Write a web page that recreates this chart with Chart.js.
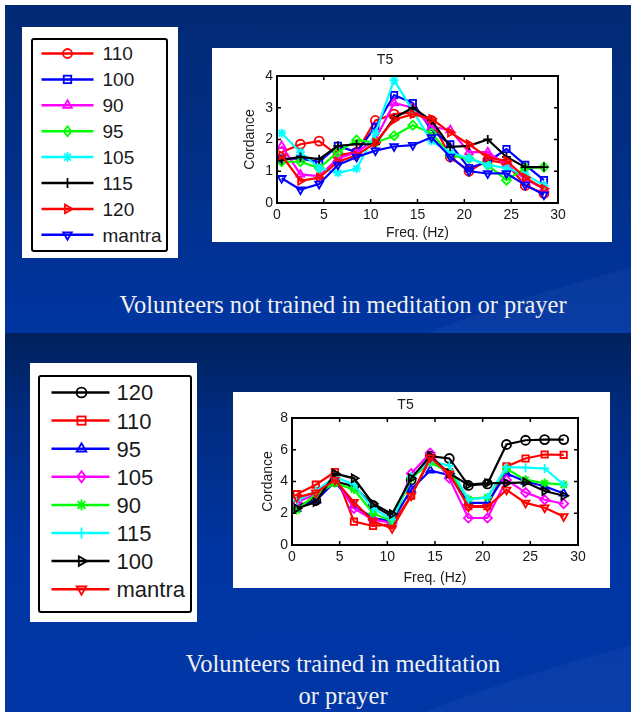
<!DOCTYPE html>
<html>
<head>
<meta charset="utf-8">
<script src="https://cdn.jsdelivr.net/npm/chart.js@4.4.1/dist/chart.umd.min.js"></script>
<style>
html, body { margin: 0; padding: 0; background: #fff; }
body { width: 631px; height: 712px; position: relative; overflow: hidden; font-family: Arial, "Liberation Sans", sans-serif; }
.panel { position: absolute; left: 5px; right: 0; overflow: hidden; }
#p1 { top: 5px; height: 328px; background: linear-gradient(180deg, #022a74 0%, #012f8a 55%, #0035a2 100%); }
#p2 { top: 333px; height: 379px; background: linear-gradient(180deg, #00215c 0%, #002b80 22%, #0035a4 60%, #0036a6 100%); }
.swoosh { position: absolute; width: 700px; height: 90px; border-radius: 50%; background: rgba(255,255,255,0.035); transform: rotate(-14deg); }
.wbox { position: absolute; background: #fff; }
.lgd { position: absolute; border: 2.5px solid #000; border-radius: 3px; box-sizing: border-box; }
.lgd svg { position: absolute; left: 0; top: 0; }
.cap { position: absolute; left: 55px; right: 0; text-align: center; color: #f0f0f0; font-family: "Liberation Serif", "DejaVu Serif", serif; font-size: 24.5px; line-height: 32px; }
canvas { position: absolute; }
</style>
</head>
<body>
<div class="panel" id="p1"><div class="swoosh" style="left:330px;top:250px"></div></div>
<div class="panel" id="p2"><div class="swoosh" style="left:330px;top:300px"></div></div>

<div class="wbox" style="left:22px;top:27px;width:156px;height:231px"></div>
<div class="lgd" id="lgd1" style="left:31px;top:38px;width:137px;height:214px"></div>
<div class="wbox" style="left:212px;top:48px;width:400px;height:194px"></div>
<canvas id="chart1" width="400" height="194" style="left:212px;top:48px"></canvas>
<div class="cap" style="top:289px">Volunteers not trained in meditation or prayer</div>

<div class="wbox" style="left:30px;top:363px;width:167px;height:259px"></div>
<div class="lgd" id="lgd2" style="left:38px;top:375px;width:154px;height:238px"></div>
<div class="wbox" style="left:233px;top:392px;width:377px;height:196px"></div>
<canvas id="chart2" width="377" height="196" style="left:233px;top:392px"></canvas>
<div class="cap" style="top:648px">Volunteers trained in meditation<br>or prayer</div>

<script>
const freqs = [0.5, 2.5, 4.5, 6.5, 8.5, 10.5, 12.5, 14.5, 16.5, 18.5, 20.5, 22.5, 24.5, 26.5, 28.5];

// not trained (top)
const topLabels = ['110', '100', '90', '95', '105', '115', '120', 'mantra'];
const top110 = [1.6, 1.85, 1.95, 1.5, 1.6, 2.6, 2.8, 2.85, 2.6, 1.45, 1.0, 1.35, 1.25, 0.55, 0.3];
const top100 = [1.4, 1.4, 1.3, 1.8, 1.6, 2.4, 3.4, 3.15, 2.3, 1.85, 1.1, 1.3, 1.7, 1.2, 0.72];
const top90 = [1.8, 0.9, 0.85, 1.4, 1.6, 2.0, 3.15, 3.0, 2.4, 2.3, 1.6, 1.6, 1.2, 0.75, 0.45];
const top95 = [1.3, 1.3, 1.1, 1.6, 1.98, 1.9, 2.12, 2.45, 2.2, 1.5, 1.4, 1.2, 0.72, 1.1, 1.13];
const top105 = [2.2, 1.6, 1.1, 0.95, 1.08, 2.2, 3.87, 2.9, 1.95, 1.6, 1.4, 1.2, 1.1, 0.9, 0.55];
const top115 = [1.35, 1.45, 1.38, 1.8, 1.85, 1.85, 2.68, 3.0, 2.6, 1.77, 1.8, 2.0, 1.45, 1.13, 1.13];
const top120 = [1.5, 0.7, 0.8, 1.3, 1.5, 1.9, 2.62, 2.8, 2.65, 2.22, 1.85, 1.43, 1.33, 0.8, 0.45];
const topMantra = [0.78, 0.42, 0.6, 1.2, 1.45, 1.65, 1.78, 1.82, 2.07, 1.45, 1.0, 0.93, 0.93, 0.57, 0.26];

// trained (bottom)
const botLabels = ['120', '110', '95', '105', '90', '115', '100', 'mantra'];
const bot120 = [2.5, 2.8, 4.0, 3.7, 2.5, 1.8, 4.1, 5.6, 5.45, 3.75, 3.85, 6.33, 6.6, 6.64, 6.64];
const bot110 = [3.2, 3.8, 4.6, 1.47, 1.2, 1.3, 3.1, 5.4, 4.6, 2.45, 2.45, 4.95, 5.45, 5.7, 5.68];
const bot95 = [2.3, 2.8, 4.0, 2.5, 1.7, 1.5, 3.5, 4.7, 4.4, 2.65, 2.65, 4.5, 4.0, 3.7, 3.25];
const bot105 = [2.7, 3.2, 4.2, 2.3, 1.6, 1.4, 4.5, 5.8, 4.2, 1.7, 1.7, 4.1, 3.3, 2.85, 2.6];
const bot90 = [2.2, 3.2, 3.9, 3.5, 2.0, 1.5, 4.2, 5.2, 4.6, 2.9, 3.0, 4.8, 4.1, 3.9, 3.8];
const bot115 = [2.8, 3.4, 4.3, 3.8, 2.3, 1.6, 4.3, 5.3, 5.0, 2.85, 3.0, 4.9, 4.87, 4.82, 3.8];
const bot100 = [2.3, 2.7, 4.5, 4.2, 2.6, 1.95, 4.2, 5.6, 4.5, 3.8, 3.9, 3.9, 3.95, 3.4, 3.1];
const botMantra = [3.0, 3.3, 4.1, 2.7, 1.5, 1.05, 3.1, 5.5, 4.5, 2.4, 2.4, 3.47, 2.65, 2.35, 1.8];

const RED = '#ff0000', BLUE = '#0000ff', MAG = '#ff00ff', GRN = '#00ff00', CYN = '#00ffff', BLK = '#000000';

const topSeries = [
  { label: topLabels[0], values: top110, color: RED, style: 'circle', rot: 0 },
  { label: topLabels[1], values: top100, color: BLUE, style: 'rect', rot: 0 },
  { label: topLabels[2], values: top90, color: MAG, style: 'triangle', rot: 0 },
  { label: topLabels[3], values: top95, color: GRN, style: 'rectRot', rot: 0 },
  { label: topLabels[4], values: top105, color: CYN, style: 'star', rot: 0 },
  { label: topLabels[5], values: top115, color: BLK, style: 'cross', rot: 0 },
  { label: topLabels[6], values: top120, color: RED, style: 'triangle', rot: 90 },
  { label: topLabels[7], values: topMantra, color: BLUE, style: 'triangle', rot: 180 }
];
const botSeries = [
  { label: botLabels[0], values: bot120, color: BLK, style: 'circle', rot: 0 },
  { label: botLabels[1], values: bot110, color: RED, style: 'rect', rot: 0 },
  { label: botLabels[2], values: bot95, color: BLUE, style: 'triangle', rot: 0 },
  { label: botLabels[3], values: bot105, color: MAG, style: 'rectRot', rot: 0 },
  { label: botLabels[4], values: bot90, color: GRN, style: 'star', rot: 0 },
  { label: botLabels[5], values: bot115, color: CYN, style: 'cross', rot: 0 },
  { label: botLabels[6], values: bot100, color: BLK, style: 'triangle', rot: 90 },
  { label: botLabels[7], values: botMantra, color: RED, style: 'triangle', rot: 180 }
];

// matlab style box with inward ticks
const boxFrame = {
  id: 'boxFrame',
  afterDraw(chart) {
    const { ctx, chartArea: a, scales: { x, y } } = chart;
    ctx.save();
    ctx.strokeStyle = '#000';
    ctx.lineWidth = 2;
    ctx.strokeRect(a.left, a.top, a.right - a.left, a.bottom - a.top);
    ctx.lineWidth = 1.5;
    ctx.beginPath();
    x.ticks.forEach(t => {
      const px = x.getPixelForValue(t.value);
      ctx.moveTo(px, a.bottom); ctx.lineTo(px, a.bottom - 4);
      ctx.moveTo(px, a.top); ctx.lineTo(px, a.top + 4);
    });
    y.ticks.forEach(t => {
      const py = y.getPixelForValue(t.value);
      ctx.moveTo(a.left, py); ctx.lineTo(a.left + 4, py);
      ctx.moveTo(a.right, py); ctx.lineTo(a.right - 4, py);
    });
    ctx.stroke();
    ctx.restore();
  }
};

const font = { family: 'Arial, "Liberation Sans", sans-serif', size: 14, weight: 'normal' };
const txt = '#1a1a1a';

function makeChart(id, series, o) {
  const datasets = series.map((s, i) => ({
    label: s.label,
    data: freqs.map((f, j) => ({ x: f, y: s.values[j] })),
    borderColor: s.color,
    borderWidth: 2.2,
    pointStyle: s.style,
    pointRotation: s.rot,
    pointRadius: 4.5,
    pointBorderWidth: 1.8,
    pointBorderColor: s.color,
    pointBackgroundColor: 'rgba(0,0,0,0)',
    tension: 0,
    order: -i
  }));
  return new Chart(document.getElementById(id), {
    type: 'line',
    data: { datasets },
    options: {
      responsive: false,
      animation: false,
      layout: { padding: { left: 0, right: o.padRight, top: 0, bottom: 0 } },
      plugins: {
        legend: { display: false },
        tooltip: { enabled: false },
        title: { display: true, text: 'T5', color: txt, font, padding: o.titlePad }
      },
      scales: {
        x: {
          type: 'linear', min: 0, max: 30,
          ticks: { stepSize: 5, color: txt, font, padding: 4 },
          grid: { display: false, drawTicks: false },
          border: { display: false },
          title: { display: true, text: 'Freq. (Hz)', color: txt, font, padding: { top: 0, bottom: o.xTitlePad } },
          afterFit: s => { s.height = o.xHeight; }
        },
        y: {
          min: 0, max: o.yMax,
          ticks: { stepSize: o.yStep, color: txt, font, padding: 4 },
          grid: { display: false, drawTicks: false },
          border: { display: false },
          title: { display: true, text: 'Cordance', color: txt, font, padding: { top: o.yTitlePad, bottom: 0 } },
          afterFit: s => { s.width = o.yWidth; }
        }
      }
    },
    plugins: [boxFrame]
  });
}

makeChart('chart1', topSeries, {
  padRight: 54, titlePad: { top: 4.2, bottom: 7 }, xHeight: 39, xTitlePad: 0.6,
  yWidth: 65, yTitlePad: 29.6, yMax: 4, yStep: 1
});
makeChart('chart2', botSeries, {
  padRight: 32, titlePad: { top: 4.6, bottom: 4.6 }, xHeight: 43, xTitlePad: 1.6,
  yWidth: 59, yTitlePad: 26.6, yMax: 8, yStep: 2
});

// legend boxes
function marker(style, rot, cx, cy, r, c) {
  const st = `fill="none" stroke="${c}" stroke-width="1.8"`;
  const tri = a => {
    const pts = [0, 120, 240].map(d => {
      const t = (d + a) * Math.PI / 180;
      return (cx + Math.sin(t) * r).toFixed(1) + ',' + (cy - Math.cos(t) * r).toFixed(1);
    });
    return `<polygon points="${pts.join(' ')}" ${st}/>`;
  };
  switch (style) {
    case 'circle': return `<circle cx="${cx}" cy="${cy}" r="${r * 0.9}" ${st}/>`;
    case 'rect': return `<rect x="${cx - r * 0.75}" y="${cy - r * 0.75}" width="${r * 1.5}" height="${r * 1.5}" ${st}/>`;
    case 'triangle': return tri(rot);
    case 'rectRot': return `<polygon points="${cx},${cy - r} ${cx + r * 0.75},${cy} ${cx},${cy + r} ${cx - r * 0.75},${cy}" ${st}/>`;
    case 'star': return `<path d="M${cx - r},${cy}H${cx + r}M${cx},${cy - r}V${cy + r}M${cx - r * 0.7},${cy - r * 0.7}L${cx + r * 0.7},${cy + r * 0.7}M${cx - r * 0.7},${cy + r * 0.7}L${cx + r * 0.7},${cy - r * 0.7}" ${st}/>`;
    case 'cross': return `<path d="M${cx - r},${cy}H${cx + r}M${cx},${cy - r}V${cy + r}" ${st}/>`;
  }
  return '';
}

function buildLegend(id, series, o) {
  const box = document.getElementById(id);
  const w = box.clientWidth, h = box.clientHeight;
  let svg = `<svg width="${w}" height="${h}">`;
  series.forEach((s, i) => {
    const y = o.y0 + i * o.step;
    svg += `<line x1="${o.x1}" y1="${y}" x2="${o.x2}" y2="${y}" stroke="${s.color}" stroke-width="2.5"/>`;
    svg += marker(s.style, s.rot, o.mx, y, o.r, s.color);
    svg += `<text x="${o.tx}" y="${y}" dy="0.36em" font-family="Arial, Liberation Sans, sans-serif" font-size="${o.fs}" fill="#1a1a1a">${s.label}</text>`;
  });
  box.innerHTML = svg + '</svg>';
}

// coordinates relative to the inner border box (inside the 2.5px border)
buildLegend('lgd1', topSeries, { y0: 13.5, step: 25.9, x1: 8.5, x2: 60.5, mx: 34.5, tx: 69.5, fs: 19, r: 5 });
buildLegend('lgd2', botSeries, { y0: 15.5, step: 28.1, x1: 11.5, x2: 69.5, mx: 41.5, tx: 76.5, fs: 22, r: 5.5 });
</script>
</body>
</html>
